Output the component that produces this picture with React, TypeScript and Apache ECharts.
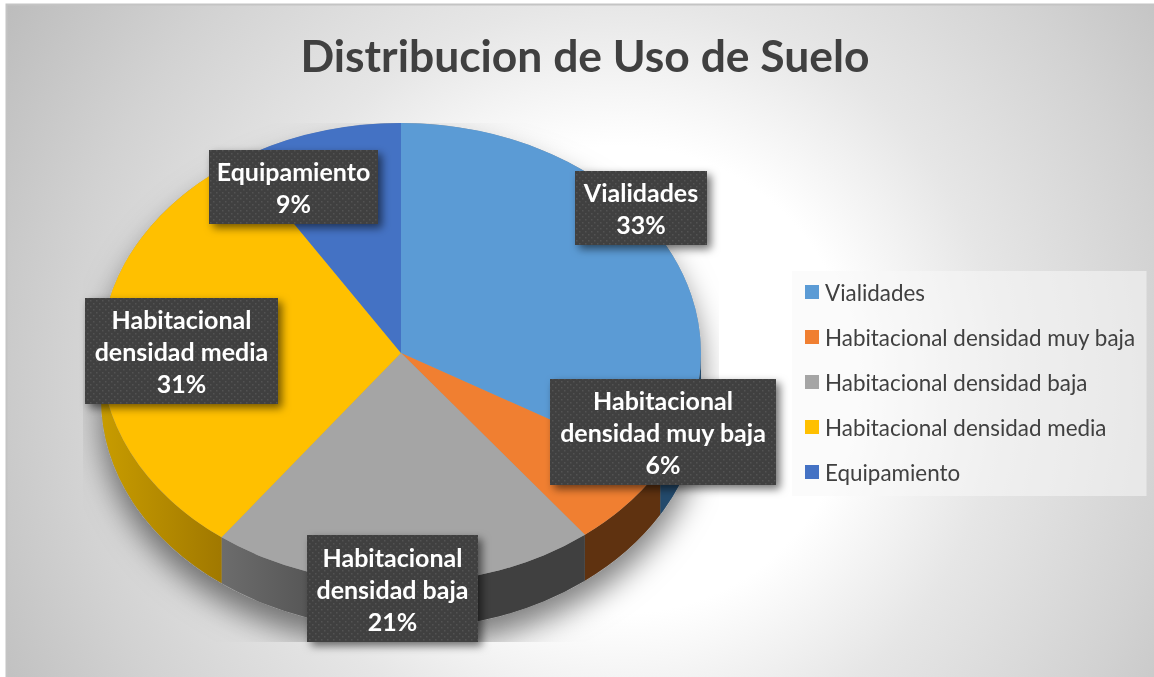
import React, { useEffect, useRef } from "react";
import * as echarts from "echarts";

const chartTitle = "Distribucion de Uso de Suelo";
const categories = [
  "Vialidades",
  "Habitacional densidad muy baja",
  "Habitacional densidad baja",
  "Habitacional densidad media",
  "Equipamiento",
];
const shares = [33.4, 6.1, 20.7, 30.8, 9.0];
const topColors = ["#5B9BD5", "#F07F31", "#A5A5A5", "#FFC000", "#4472C4"];
const wallStops = [
  ["#234A6C", "#234A6C"],
  ["#5F3210", "#5F3210"],
  ["#6C6C6C", "#404040"],
  ["#C89C00", "#A07800"],
  ["#223A66", "#223A66"],
];
const wallSpans = [
  [660, 700],
  [585, 680],
  [223, 400],
  [101, 223],
  [101, 223],
];
const labelBoxes = [
  [575, 171, 132, 74],
  [550, 379, 226, 106],
  [307, 535, 171, 107],
  [85, 298, 193, 106],
  [209, 150, 169, 74],
];

const FONT = "Lato, 'Noto Sans', sans-serif";
const cx = 401;
const cy = 353;
const rx = 300;
const ry = 230;
const depth = 46;

const total = shares.reduce((a, b) => a + b, 0);
const rim = (deg: number, dy = 0) => {
  const a = (deg * Math.PI) / 180;
  return [cx + rx * Math.sin(a), cy - ry * Math.cos(a) + dy];
};
const fmt = (p: number[]) => `${p[0].toFixed(2)} ${p[1].toFixed(2)}`;
const topPath = (a: number, b: number) =>
  `M${cx} ${cy}L${fmt(rim(a))}A${rx} ${ry} 0 ${b - a > 180 ? 1 : 0} 1 ${fmt(rim(b))}Z`;
const wallPath = (a: number, b: number) => {
  const s = Math.max(a, 90);
  const e = Math.min(b, 270);
  if (e <= s) return null;
  return `M${fmt(rim(s))}A${rx} ${ry} 0 0 1 ${fmt(rim(e))}L${fmt(rim(e, depth))}A${rx} ${ry} 0 0 0 ${fmt(rim(s, depth))}Z`;
};
const labelText = (name: string, share: number) =>
  `${name.replace("Habitacional ", "Habitacional\n")}\n${Math.round((share / total) * 100)}%`;

function makeDots() {
  const c = document.createElement("canvas");
  c.width = 6;
  c.height = 6;
  const g = c.getContext("2d")!;
  g.fillStyle = "#404040";
  g.fillRect(0, 0, 6, 6);
  g.fillStyle = "#525252";
  g.fillRect(0, 0, 1.5, 1.5);
  g.fillRect(3, 3, 1.5, 1.5);
  return c;
}

export default function App() {
  const ref = useRef<HTMLDivElement>(null);
  useEffect(() => {
    const chart = echarts.init(ref.current!, undefined, { renderer: "svg" });
    const dots = makeDots();
    let acc = 0;
    const ranges = shares.map((s) => {
      const a = (acc / total) * 360;
      acc += s;
      return [a, (acc / total) * 360];
    });
    const silhouette = `M${fmt(rim(0))}A${rx} ${ry} 0 0 1 ${fmt(rim(90))}L${fmt(rim(90, depth))}A${rx} ${ry} 0 1 1 ${fmt(rim(270, depth))}L${fmt(rim(270))}A${rx} ${ry} 0 0 1 ${fmt(rim(0))}Z`;

    const shadowSeries = {
      type: "custom",
      name: "sombra",
      coordinateSystem: "none",
      silent: true,
      data: [total],
      renderItem: () => ({
        type: "path",
        shape: { pathData: silhouette },
        clipPath: { type: "rect", shape: { x: 83, y: 123, width: 636, height: 519 } },
        style: {
          fill: "#999999",
          shadowBlur: 30,
          shadowColor: "rgba(0,0,0,0.5)",
          shadowOffsetX: 0,
          shadowOffsetY: 18,
        },
      }),
    };

    const sliceSeries = categories.map((name, i) => ({
      type: "custom",
      name,
      coordinateSystem: "none",
      silent: true,
      data: [shares[i]],
      itemStyle: { color: topColors[i] },
      renderItem: () => {
        const [a, b] = ranges[i];
        const children: any[] = [];
        const wall = wallPath(a, b);
        if (wall) {
          children.push({
            type: "path",
            shape: { pathData: wall },
            style: {
              fill: new echarts.graphic.LinearGradient(
                wallSpans[i][0], 0, wallSpans[i][1], 0,
                [
                  { offset: 0, color: wallStops[i][0] },
                  { offset: 1, color: wallStops[i][1] },
                ],
                true
              ),
            },
          });
        }
        children.push({
          type: "path",
          z2: 5,
          shape: { pathData: topPath(a, b) },
          style: { fill: topColors[i] },
        });
        const [x, y, w, h] = labelBoxes[i];
        children.push({
          type: "rect",
          z2: 50,
          shape: { x, y, width: w, height: h },
          style: {
            fill: { image: dots, repeat: "repeat", imageWidth: 6, imageHeight: 6 },
            shadowBlur: 8,
            shadowColor: "rgba(0,0,0,0.55)",
            shadowOffsetX: 4,
            shadowOffsetY: 4,
          },
        });
        children.push({
          type: "text",
          z2: 51,
          style: {
            text: labelText(name, shares[i]),
            x: x + w / 2,
            y: y + h / 2,
            align: "center",
            verticalAlign: "middle",
            fill: "#ffffff",
            fontFamily: FONT,
            fontWeight: 700,
            fontSize: 25,
            lineHeight: 32,
          },
        });
        return { type: "group", children };
      },
    }));

    chart.setOption({
      animation: false,
      title: {
        text: chartTitle,
        left: 580,
        top: 24,
        textAlign: "center",
        textStyle: { fontFamily: FONT, fontWeight: 700, fontSize: 44.4, color: "#404040", lineHeight: 50 },
      },
      legend: {
        data: categories,
        orient: "vertical",
        left: 792,
        top: 271,
        padding: [10, 11, 13, 13],
        backgroundColor: "rgba(248,248,248,0.55)",
        icon: "rect",
        itemWidth: 14,
        itemHeight: 14,
        itemGap: 23,
        selectedMode: false,
        textStyle: { fontFamily: FONT, fontSize: 22.4, color: "#404040", lineHeight: 14, padding: [0, 0, 0, 1] },
      },
      graphic: [
        {
          type: "rect",
          z: -10,
          silent: true,
          shape: { x: 6.5, y: 4.5, width: 1150, height: 680 },
          style: {
            stroke: "#c4c4c4",
            lineWidth: 2,
            fill: new echarts.graphic.RadialGradient(
              620, 380, 730,
              [
                { offset: 0, color: "#ffffff" },
                { offset: 0.32, color: "#ffffff" },
                { offset: 0.52, color: "#e6e6e6" },
                { offset: 0.76, color: "#d2d2d2" },
                { offset: 1, color: "#bbbbbb" },
              ],
              true
            ),
          },
        },
      ],
      series: [shadowSeries, ...sliceSeries],
    });
    return () => chart.dispose();
  }, []);
  return <div ref={ref} style={{ position: "fixed", left: 0, top: 0, width: 1154, height: 677 }} />;
}
